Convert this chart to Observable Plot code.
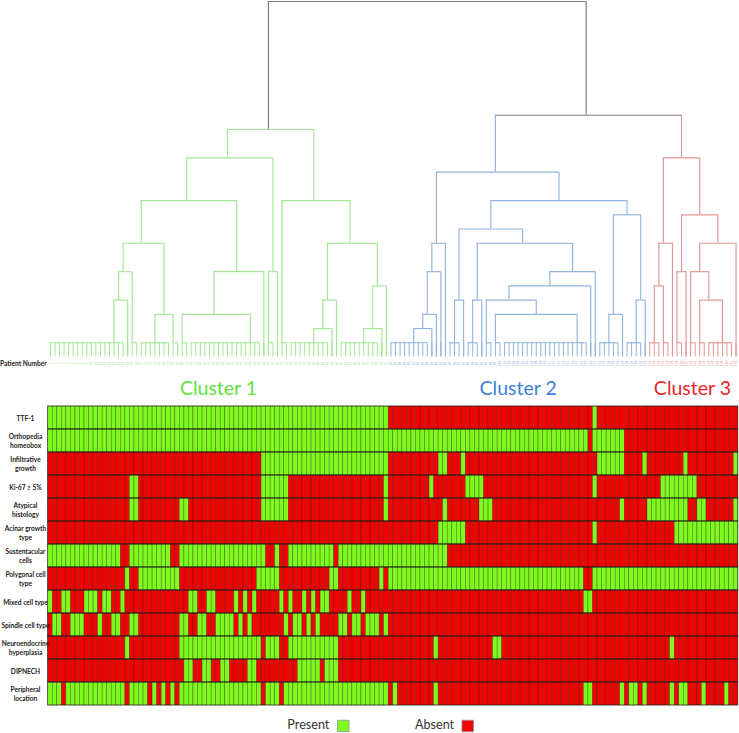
<!DOCTYPE html>
<html>
<head>
<meta charset="utf-8">
<script src="https://cdn.jsdelivr.net/npm/d3@7"></script>
<script src="https://cdn.jsdelivr.net/npm/@observablehq/plot@0.6"></script>
<style>
  html, body { margin: 0; padding: 0; background: #fff; }
  svg { display: block; }
</style>
</head>
<body>
<div id="chart"></div>
<script>
// ---------- Heat map: runs of "Present" patients [first, last + 1] per feature ----------
const rowLabels = ["TTF-1", "Orthopedia\nhomeobox", "Infiltrative\ngrowth", "Ki-67 ≥ 5%", "Atypical\nhistology",
  "Acinar growth\ntype", "Sustentacular\ncells", "Polygonal cell\ntype", "Mixed cell type", "Spindle cell type",
  "Neuroendocrine\nhyperplasia", "DIPNECH", "Peripheral\nlocation"];
const ttf1 = [[0,75],[120,121]];
const orthopedia = [[0,119],[120,127]];
const infiltrative = [[47,75],[86,88],[91,92],[121,127],[131,132],[140,141],[151,152]];
const ki67 = [[18,20],[47,53],[74,75],[84,85],[92,96],[120,121],[135,143]];
const atypical = [[18,20],[29,31],[47,53],[74,75],[87,88],[95,98],[126,127],[132,141],[143,145],[151,152]];
const acinar = [[86,92],[120,121],[138,152]];
const sustentacular = [[0,16],[18,27],[29,48],[50,51],[53,63],[64,88]];
const polygonal = [[17,18],[20,29],[46,51],[62,64],[73,74],[75,118],[120,152]];
const mixed = [[0,1],[3,5],[8,11],[12,14],[16,17],[31,33],[35,37],[41,42],[43,44],[45,46],[51,52],[53,54],[56,57],[58,59],[60,62],[66,67],[69,70],[118,120]];
const spindle = [[1,3],[5,8],[11,12],[14,16],[18,20],[29,31],[33,35],[37,41],[42,43],[44,45],[52,53],[54,56],[57,58],[59,60],[64,66],[67,69],[70,73],[74,75]];
const neuroendocrine = [[17,18],[29,47],[48,51],[53,64],[85,86],[98,100],[137,138]];
const dipnech = [[30,32],[34,36],[38,40],[44,46],[55,60],[61,64]];
const peripheral = [[0,3],[4,17],[18,22],[23,24],[25,26],[27,28],[29,47],[48,51],[52,75],[76,77],[85,86],[118,120],[126,127],[128,130],[131,132],[137,138],[139,141],[144,145],[149,150]];
const rowRuns = [ttf1, orthopedia, infiltrative, ki67, atypical, acinar, sustentacular, polygonal, mixed, spindle, neuroendocrine, dipnech, peripheral];
const patientCount = 152;

// ---------- Dendrogram: [leftLeaf, rightLeaf, height, leftChildHeight, rightChildHeight] (-1 = a leaf) ----------
const cluster1Merges = [[14,17,3,0,-1],[15,18,5,3,0],[23,27,2,0,0],[16,25,7,5,2],[29,44,2,0,0],[36,47,5,2,-1],[20,41,10,7,5],
  [48,50,5,0,-1],[30,49,13,10,5],[58,62,1,0,-1],[60,63,3,1,-1],[69,73,1,0,-1],[71,74,4,1,-1],[61,72,7,3,4],[51,66,10,0,7],[39,58,15,13,10]];
const cluster2Merges = [[80,84,1,0,-1],[82,85,2,1,-1],[83,86,5,2,-1],[84,87,7,5,-1],[89,91,3,0,-1],[93,95,3,0,-1],[98,116,2,0,0],
  [96,107,3,0,2],[101,119,4,3,-1],[110,120,5,4,-1],[94,115,7,3,5],[90,104,8,3,7],[123,126,2,0,-1],[129,131,3,0,-1],[124,130,9,2,3],[97,127,10,8,9],[85,112,12,7,10]];
const cluster3Merges = [[133,135,4,0,0],[134,137,7,4,-1],[138,140,5,0,-1],[143,148,3,0,0],[141,145,5,0,3],[143,151,7,5,-1],[139,147,9,5,7],[135,143,13,7,9]];
// Groups of leaves joined at height 0: [firstLeaf, lastLeaf]
const cluster1Flat = [[0,16],[18,19],[20,26],[27,28],[29,30],[31,46],[48,49],[51,52],[53,61],[64,72]];
const cluster2Flat = [[75,83],[88,90],[92,94],[96,97],[98,99],[100,118],[121,125],[127,130]];
const cluster3Flat = [[132,134],[135,136],[138,139],[141,142],[143,144],[145,150]];
const solitaryLeaves = {c1:[17,47,50,62,63,73,74], c2:[84,85,86,87,91,95,119,120,126,131], c3:[137,140,151]};
// Top joins: [left, right, height, leftChildHeight, rightChildHeight, leftGroup, rightGroup]
const topMerges = [[98,139,16,12,13,"c2","c3"],[48,118,24,15,16,"top","top"]];

const clusterNames = ["Cluster 1", "Cluster 2", "Cluster 3"];
const clusterCentres = [37, 103, 141.4];
const clusterColors = ["#62e23c", "#3f7fd6", "#e9262a"];
const legendNames = ["Present", "Absent"];
const legendSwatches = [64.5, 91.9];
const legendTexts = [56.8, 84.6];

// ---------- Derived tables ----------
const PRESENT = "#7cfb1d", ABSENT = "#f40000";
const cells = [];
rowRuns.forEach((runs, r) => {
  for (let i = 0; i < patientCount; i++) {
    const on = runs.some(([a, b]) => i >= a && i < b);
    cells.push({row: rowLabels[r], i, value: on ? "Present" : "Absent"});
  }
});
const bars = [], legs = [], leaves = [];
function addMerges(list, g) {
  for (const [a, b, h, ha, hb] of list) {
    bars.push({x1: a, x2: b, h, g});
    legs.push({x: a, y1: h, y2: ha, g});
    legs.push({x: b, y1: h, y2: hb, g});
  }
}
addMerges(cluster1Merges, "c1"); addMerges(cluster2Merges, "c2"); addMerges(cluster3Merges, "c3");
for (const [a, b, h, ha, hb, ga, gb] of topMerges) {
  bars.push({x1: a, x2: b, h, g: "top"});
  legs.push({x: a, y1: h, y2: ha, g: ga});
  legs.push({x: b, y1: h, y2: hb, g: gb});
}
function addFlat(list, g) {
  for (const [a, b] of list) {
    bars.push({x1: a, x2: b, h: 0, g});
    for (let i = a; i <= b; i++) leaves.push({i, g});
  }
}
addFlat(cluster1Flat, "c1"); addFlat(cluster2Flat, "c2"); addFlat(cluster3Flat, "c3");
const leafGroup = i => i < 75 ? "c1" : i < 132 ? "c2" : "c3";
// The printed patient numbers are too small to read: placeholders in leaf order.
const patientLabels = d3.range(patientCount).map(i => ({i, label: String(i + 1), g: leafGroup(i)}));

const xDomain = [-0.5, patientCount - 0.5], xRange = [47.7, 737.8];
const font = "Lato, 'Open Sans', sans-serif";
const groupColor = {domain: ["c1", "c2", "c3", "top"], range: ["#a0e992", "#92b3de", "#e39595", "#7a7a7a"]};

// ---------- Dendrogram panel ----------
const tree = Plot.plot({
  width: 739, height: 375, margin: 0,
  style: {fontFamily: font, background: "#fff"},
  x: {domain: xDomain, range: xRange, axis: null},
  y: {domain: [-1, 24], range: [356.5, 1], axis: null},
  color: groupColor,
  marks: [
    Plot.ruleY(bars, {x1: "x1", x2: "x2", y: "h", stroke: "g", strokeWidth: 1.15}),
    Plot.ruleX(legs, {x: "x", y1: "y1", y2: "y2", stroke: "g", strokeWidth: 1.15}),
    Plot.ruleX(leaves, {x: "i", y1: -1, y2: 0, stroke: "g", strokeWidth: 1}),
    Plot.ruleX(Object.entries(solitaryLeaves).flatMap(([g, v]) => v.map(i => ({i, g}))),
      {x: "i", y1: -1, y2: 0, stroke: "g", strokeWidth: 1}),
    Plot.text(patientLabels, {x: "i", y: -1.45, text: "label", rotate: -90, fontSize: 3.2, fill: "g"}),
    Plot.text(["Patient Number"], {x: -0.5, y: -1.45, dx: -1.5, text: d => d, textAnchor: "end", fontSize: 6.6, fontWeight: 700, fill: "#222"})
  ]
});

// ---------- Heat map panel ----------
const heat = Plot.plot({
  width: 739, height: 358, margin: 0,
  style: {fontFamily: font, background: "#fff"},
  x: {domain: xDomain, range: xRange, axis: null},
  y: {type: "band", domain: rowLabels, range: [30, 330], padding: 0, axis: null},
  color: {domain: ["Present", "Absent"], range: [PRESENT, ABSENT]},
  marks: [
    Plot.barX(cells, {x1: d => d.i - 0.5, x2: d => d.i + 0.5, y: "row", fill: "value", stroke: "#2a1a00", strokeWidth: 0.5, strokeOpacity: 0.6}),
    Plot.barX(rowLabels, {x1: xDomain[0], x2: xDomain[1], y: d => d, fill: "none", stroke: "#222", strokeWidth: 0.7, strokeOpacity: 0.85}),
    Plot.text(rowLabels, {x: -5.5, y: d => d, text: d => d, textAnchor: "middle", fontSize: 6.6, fontWeight: 700, lineHeight: 1.3, fill: "#222"}),
    Plot.text(clusterNames, {x: (d, i) => clusterCentres[i], frameAnchor: "top", dy: 13, text: d => d, lineAnchor: "middle",
      fontSize: 19.5, fill: (d, i) => clusterColors[i]}),
    Plot.text(legendNames, {x: (d, i) => legendTexts[i], frameAnchor: "bottom", dy: -8.5, text: d => d, lineAnchor: "middle", fontSize: 12.6, fill: "#333"}),
    Plot.dot(legendNames, {x: (d, i) => legendSwatches[i], frameAnchor: "bottom", dy: -7.5, symbol: "square", r: 6.5,
      fill: d => d, stroke: "#8f93a8", strokeWidth: 0.8})
  ]
});

document.getElementById("chart").append(tree, heat);
</script>
</body>
</html>
